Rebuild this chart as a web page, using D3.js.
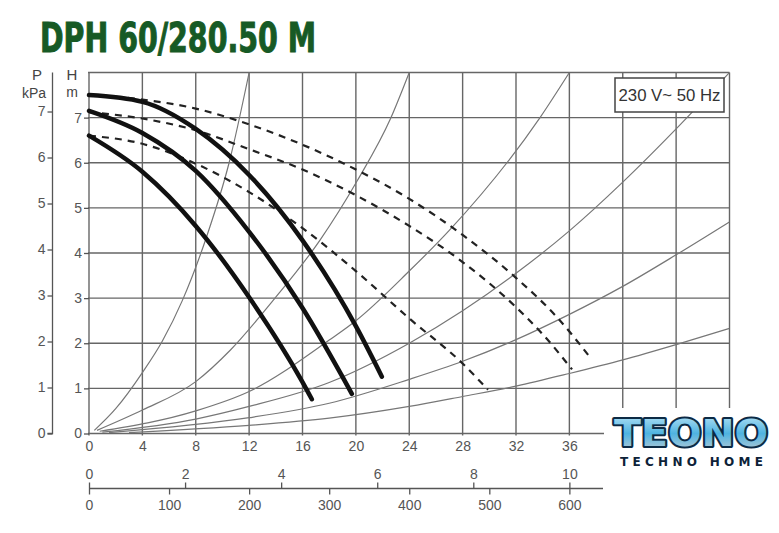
<!DOCTYPE html>
<html>
<head>
<meta charset="utf-8">
<script src="https://cdn.jsdelivr.net/npm/d3@7"></script>
<style>
  body { margin: 0; background: #fff; }
  svg { display: block; }
  .tick text { font-family: "Liberation Sans", Arial, sans-serif; font-size: 14px; fill: #555; }
  .tick line { stroke: #555; stroke-width: 1.3; }
</style>
</head>
<body>
<svg width="779" height="533"></svg>
<script>
// DATA - Q in m3/h, H in m
var qTicks = [0, 4, 8, 12, 16, 20, 24, 28, 32, 36];
var hTicks = [0, 1, 2, 3, 4, 5, 6, 7];
var pTicks = [0, 1, 2, 3, 4, 5, 6, 7];
var lsTicks = [0, 2, 4, 6, 8, 10];
var lmTicks = [0, 100, 200, 300, 400, 500, 600];

// pump curves, speed 3 / 2 / 1
var solidTop = [[0,7.5],[4,7.35],[8,6.75],[12,5.73],[16,4.28],[20,2.38],[21.95,1.26]];
var solidMid = [[0,7.15],[4,6.66],[8,5.82],[12,4.47],[16,2.78],[19.7,0.88]];
var solidLow = [[0,6.6],[4,5.8],[8,4.6],[12,3.02],[16,1.14],[16.7,0.76]];
var dashTop = [[0,7.5],[4,7.4],[8,7.2],[12,6.85],[16,6.4],[20,5.85],[24,5.2],[28,4.4],[32,3.45],[35,2.6],[37.6,1.67]];
var dashMid = [[0,7.12],[4,6.98],[8,6.72],[12,6.3],[16,5.85],[20,5.28],[24,4.6],[28,3.8],[32,2.8],[34,2.2],[36.2,1.42]];
var dashLow = [[0,6.6],[4,6.42],[8,5.98],[12,5.35],[16,4.55],[20,3.6],[24,2.55],[28,1.55],[29.9,0.97]];

// system curves
var sysA = [[0.4,0.07],[2,0.55],[4,1.35],[5.5,2.05],[7,2.95],[8.8,4.35],[10.5,6.0],[12,8]];
var sysB = [[0.6,0.07],[4,0.52],[8,1.15],[10.6,1.85],[13.8,2.95],[17.3,4.28],[20.1,5.6],[22.6,6.98],[24,8]];
var sysC = [[0.8,0.05],[8,0.5],[12,0.93],[18,2.07],[20,2.5],[24,3.6],[27,4.5],[33.8,7.0],[36,8]];
var sysD = [[1,0.03],[8,0.32],[12,0.6],[18,1.13],[24,2.0],[28,2.72],[32,3.55],[36,4.49],[40,5.57],[44,6.75],[48,8]];
var sysE = [[1.5,0.02],[12,0.35],[18,0.67],[24,1.2],[28,1.6],[32,2.08],[36,2.64],[40,3.26],[44,3.96],[48,4.69]];
var sysF = [[3,0.02],[12,0.18],[18,0.34],[24,0.6],[28,0.82],[32,1.05],[36,1.33],[40,1.63],[44,1.97],[48,2.33]];

var svg = d3.select("svg");

// SCALES
var x = d3.scaleLinear().domain([0, 48]).range([89, 729.5]);
var y = d3.scaleLinear().domain([0, 8]).range([433.5, 72.5]);
var yP = d3.scaleLinear().domain([0, 8 * 0.981]).range([433.5, 72.5]); // 10 kPa per unit
var xLs = d3.scaleLinear().domain([0, 10]).range([x(0), x(36)]);
var xLm = d3.scaleLinear().domain([0, 600]).range([x(0), x(36)]);

// TITLE
svg.append("text")
  .attr("x", 40).attr("y", 52)
  .attr("textLength", 276).attr("lengthAdjust", "spacingAndGlyphs")
  .style("font-family", "'Liberation Sans Narrow', 'DejaVu Sans Condensed', sans-serif")
  .style("font-weight", "bold").style("font-size", "41px")
  .style("fill", "#175a25").style("stroke", "#175a25").style("stroke-width", 1)
  .text("DPH 60/280.50 M");

// GRID
var grid = svg.append("g").attr("stroke", "#666").attr("stroke-width", 1.4);
grid.selectAll(".v").data(d3.range(0, 49, 4)).enter().append("line")
  .attr("x1", d => x(d)).attr("x2", d => x(d))
  .attr("y1", y(8)).attr("y2", y(0) + 2);
grid.selectAll(".h").data(d3.range(0, 9)).enter().append("line")
  .attr("x1", x(0) - 1).attr("x2", x(48))
  .attr("y1", d => y(d)).attr("y2", d => y(d));

// CURVES
svg.append("clipPath").attr("id", "plot").append("rect")
  .attr("x", x(0)).attr("y", y(8)).attr("width", x(48) - x(0)).attr("height", y(0) - y(8));

var line = d3.line().x(d => x(d[0])).y(d => y(d[1])).curve(d3.curveMonotoneX);

var sysCont = svg.append("g").attr("clip-path", "url(#plot)");
sysCont.selectAll("path").data([sysA, sysB, sysC, sysD, sysE, sysF]).enter().append("path")
  .attr("d", line).attr("fill", "none").attr("stroke", "#777").attr("stroke-width", 1.2);

svg.selectAll(".dash").data([dashTop, dashMid, dashLow]).enter().append("path")
  .attr("d", line).attr("fill", "none").attr("stroke", "#222")
  .attr("stroke-width", 2.2).attr("stroke-dasharray", "7,6");

svg.selectAll(".solid").data([solidTop, solidMid, solidLow]).enter().append("path")
  .attr("d", line).attr("fill", "none").attr("stroke", "#111")
  .attr("stroke-width", 4.5).attr("stroke-linecap", "round");

// AXES
var axH = svg.append("g").attr("transform", "translate(" + x(0) + ",0)")
  .call(d3.axisLeft(y).tickValues(hTicks).tickSize(5).tickPadding(2));
axH.select(".domain").remove();

var axP = svg.append("g").attr("transform", "translate(52.5,0)")
  .call(d3.axisLeft(yP).tickValues(pTicks).tickSize(5).tickSizeOuter(0).tickPadding(2));
axP.select(".domain").attr("stroke", "#555").attr("stroke-width", 1.3)
  .attr("d", "M0," + y(8) + "V" + y(0) + "H-5");

var axQ = svg.append("g").attr("transform", "translate(0," + y(0) + ")")
  .call(d3.axisBottom(x).tickValues(qTicks).tickSize(0).tickPadding(8));
axQ.select(".domain").remove();

var flowY = 488.5;
svg.append("line").attr("x1", x(0)).attr("x2", 603).attr("y1", flowY).attr("y2", flowY)
  .attr("stroke", "#555").attr("stroke-width", 1.3);
var axLs = svg.append("g").attr("transform", "translate(0," + flowY + ")")
  .call(d3.axisTop(xLs).tickValues(lsTicks).tickSize(6).tickPadding(4));
axLs.select(".domain").remove();
var axLm = svg.append("g").attr("transform", "translate(0," + flowY + ")")
  .call(d3.axisBottom(xLm).tickValues(lmTicks).tickSize(6).tickPadding(6));
axLm.select(".domain").remove();

// AXIS TITLES
var lab = svg.append("g").style("font-family", "'Liberation Sans', Arial, sans-serif").style("fill", "#444")
  .attr("text-anchor", "middle");
lab.append("text").attr("x", 37).attr("y", 80).style("font-size", "15px").text("P");
lab.append("text").attr("x", 34).attr("y", 98).style("font-size", "14px").text("kPa");
lab.append("text").attr("x", 72).attr("y", 80).style("font-size", "15px").text("H");
lab.append("text").attr("x", 72).attr("y", 97).style("font-size", "14px").text("m");

// VOLTAGE BOX
svg.append("rect").attr("x", 615).attr("y", 78).attr("width", 109).attr("height", 34)
  .attr("fill", "#fff").attr("stroke", "#444").attr("stroke-width", 1.5);
svg.append("text").attr("x", 669.5).attr("y", 101).attr("text-anchor", "middle")
  .attr("textLength", 102).attr("lengthAdjust", "spacingAndGlyphs")
  .style("font-family", "'Liberation Sans', Arial, sans-serif").style("font-size", "17px").style("fill", "#333")
  .text("230 V~ 50 Hz");

// LOGO
svg.append("rect").attr("x", 604).attr("y", 408).attr("width", 175).attr("height", 125).attr("fill", "#fff");
var grad = svg.append("defs").append("linearGradient").attr("id", "logoFill")
  .attr("x1", 0).attr("y1", 0).attr("x2", 0).attr("y2", 1);
grad.append("stop").attr("offset", "0").attr("stop-color", "#bfe6f7");
grad.append("stop").attr("offset", "0.5").attr("stop-color", "#4fb3e0");
grad.append("stop").attr("offset", "1").attr("stop-color", "#c9ced3");
svg.append("text").attr("x", 614).attr("y", 446)
  .attr("textLength", 154).attr("lengthAdjust", "spacingAndGlyphs")
  .style("font-family", "'DejaVu Sans', sans-serif").style("font-weight", "bold").style("font-size", "37px")
  .style("fill", "url(#logoFill)").style("stroke", "#0c2a44").style("stroke-width", 4)
  .style("paint-order", "stroke").style("stroke-linejoin", "round")
  .text("TEONO");
svg.append("text").attr("x", 620).attr("y", 466)
  .attr("textLength", 143).attr("lengthAdjust", "spacing")
  .style("font-family", "'DejaVu Sans', sans-serif").style("font-weight", "bold").style("font-size", "12px")
  .style("fill", "#0d2238")
  .text("TECHNO HOME");
</script>
</body>
</html>
